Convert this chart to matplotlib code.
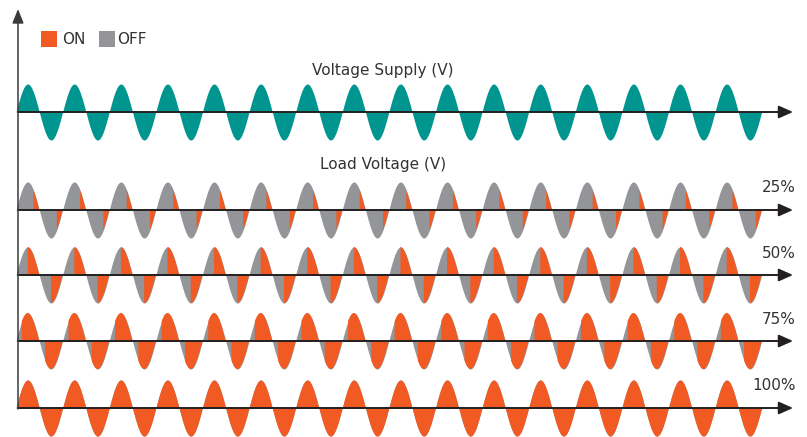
import numpy as np
import matplotlib
matplotlib.use("Agg")
import matplotlib.pyplot as plt
from matplotlib.patches import Rectangle

# Daten
n_cycles = 16
levels = ["25%", "50%", "75%", "100%"]
firing_deg = [135, 90, 45, 0]   # Zündwinkel je Halbwelle
legend_labels = ["ON", "OFF"]

# Farben
teal = "#00968f"
orange = "#f15a22"
gray = "#939598"
dark = "#231f20"
txt = "#333333"

# Layout (Pixel)
x0 = 16.0
period = 46.6
amp = 28.0
supply_base = 112
row_base = [210, 275, 341, 408]
axis_left = 18
arrow_end = 793

fig = plt.figure(figsize=(8.07, 4.37), dpi=100)
ax = fig.add_axes([0, 0, 1, 1])
ax.set_xlim(0, 807)
ax.set_ylim(437, 0)
ax.axis("off")

t = np.linspace(0, n_cycles, 40000)
x = x0 + t * period
theta = 2 * np.pi * t
wave = np.sin(theta)

# Versorgungsspannung
ax.fill_between(x, supply_base, supply_base - amp * wave, color=teal, lw=0, zorder=2)
ax.text(383, 71, "Voltage Supply (V)", ha="center", va="center", fontsize=11, color=txt)
ax.text(383, 164, "Load Voltage (V)", ha="center", va="center", fontsize=11, color=txt)

# Lastspannung je Stufe
half_phase = np.degrees(np.mod(theta, np.pi))
for base, fire, lab in zip(row_base, firing_deg, levels):
    on = half_phase >= fire
    ax.fill_between(x, base, base - amp * wave, color=gray, lw=0, zorder=2)
    ax.fill_between(x, base, base - amp * wave, where=on, color=orange, lw=0, zorder=3)
    ax.text(796, base - 22, lab, ha="right", va="center", fontsize=11, color=txt)

# Achsen mit Pfeilen
for base in [supply_base] + row_base:
    ax.annotate("", xy=(arrow_end, base), xytext=(axis_left, base),
                arrowprops=dict(arrowstyle="-|>,head_length=0.45,head_width=0.2",
                                color=dark, lw=1.4,
                                mutation_scale=19, shrinkA=0, shrinkB=0),
                zorder=5)
ax.annotate("", xy=(axis_left, 9), xytext=(axis_left, 409),
            arrowprops=dict(arrowstyle="-|>,head_length=0.45,head_width=0.18",
                            color="#3a3a3c", lw=1.1,
                            mutation_scale=19, shrinkA=0, shrinkB=0),
            zorder=5)

# Legende
ax.add_patch(Rectangle((41, 31), 16, 16, color=orange, lw=0))
ax.text(62, 40, legend_labels[0], ha="left", va="center", fontsize=11, color=txt)
ax.add_patch(Rectangle((99, 31), 16, 16, color=gray, lw=0))
ax.text(117, 40, legend_labels[1], ha="left", va="center", fontsize=11, color=txt)

fig.savefig("out.png", dpi=100)
